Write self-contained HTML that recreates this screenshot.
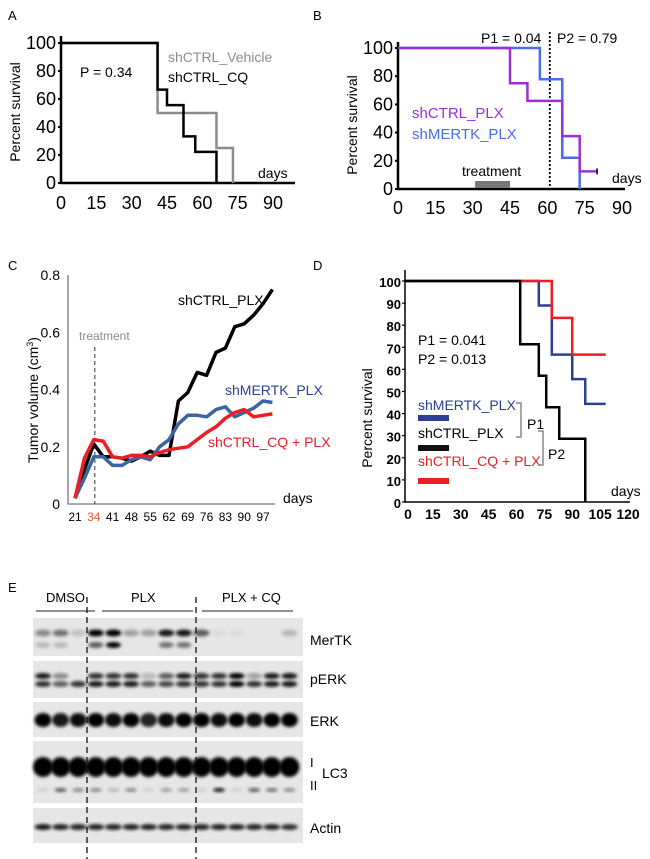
<!DOCTYPE html>
<html><head><meta charset="utf-8"><style>
html,body{margin:0;padding:0;background:#fff;}
svg{display:block;font-family:"Liberation Sans",Arial,sans-serif;}
</style></head><body>
<svg id="fig" width="650" height="859" viewBox="0 0 650 859" xmlns="http://www.w3.org/2000/svg">
<defs><filter id="blur" x="-50%" y="-50%" width="200%" height="200%"><feGaussianBlur stdDeviation="1.6"/></filter></defs>
<!-- Panel A -->
<g>
<text x="8" y="20" font-size="13">A</text>
<g id="gA"></g>
<text transform="translate(20,112) rotate(-90)" text-anchor="middle" font-size="14">Percent survival</text>
<text x="80" y="77" font-size="14">P = 0.34</text>
<text x="168" y="62" font-size="14" fill="#8c8c8c">shCTRL_Vehicle</text>
<text x="168" y="82" font-size="14">shCTRL_CQ</text>
<text x="258" y="178" font-size="14">days</text>
</g>
<!-- Panel B -->
<g>
<text x="313" y="20" font-size="13">B</text>
<g id="gB"></g>
<text transform="translate(357,125) rotate(-90)" text-anchor="middle" font-size="14">Percent survival</text>
<text x="481" y="43" font-size="14">P1 = 0.04</text>
<text x="557" y="43" font-size="14">P2 = 0.79</text>
<text x="412" y="118" font-size="15" fill="#9b30d9">shCTRL_PLX</text>
<text x="412" y="139" font-size="15" fill="#4a6cf0">shMERTK_PLX</text>
<text x="462" y="176" font-size="14">treatment</text>
<text x="612" y="183" font-size="14">days</text>
</g>
<!-- Panel C -->
<g>
<text x="8" y="270" font-size="13">C</text>
<g id="gC"></g>
<text transform="translate(38,400) rotate(-90)" text-anchor="middle" font-size="14">Tumor volume (cm<tspan baseline-shift="super" font-size="9">3</tspan>)</text>
<text x="79" y="340" font-size="12" fill="#8c8c8c">treatment</text>
<text x="178" y="305" font-size="14">shCTRL_PLX</text>
<text x="225" y="395" font-size="14" fill="#2c3f94">shMERTK_PLX</text>
<text x="208" y="447" font-size="14" fill="#ee1c24">shCTRL_CQ + PLX</text>
<text x="283" y="503" font-size="14">days</text>
</g>
<!-- Panel D -->
<g>
<text x="313" y="270" font-size="13">D</text>
<g id="gD"></g>
<text transform="translate(372,418) rotate(-90)" text-anchor="middle" font-size="14">Percent survival</text>
<text x="418" y="345" font-size="14">P1 = 0.041</text>
<text x="418" y="364" font-size="14">P2 = 0.013</text>
<text x="418" y="410" font-size="14" fill="#2c3f94">shMERTK_PLX</text>
<rect x="418" y="415" width="31" height="6" fill="#2c3f94"/>
<text x="418" y="438" font-size="14">shCTRL_PLX</text>
<rect x="418" y="445" width="31" height="6" fill="#111"/>
<text x="418" y="466" font-size="14" fill="#ee1c24">shCTRL_CQ + PLX</text>
<rect x="418" y="478" width="31" height="6" fill="#ee1c24"/>
<path d="M516,403 H521 V437 H516" fill="none" stroke="#888" stroke-width="1.5"/>
<text x="527" y="429" font-size="14">P1</text>
<path d="M538,431 H543 V465 H538" fill="none" stroke="#888" stroke-width="1.5"/>
<text x="548" y="459" font-size="14">P2</text>
<text x="611" y="496" font-size="14">days</text>
</g>
<!-- Panel E -->
<g>
<text x="8" y="592" font-size="13">E</text>
<text x="46" y="602" font-size="13">DMSO</text>
<line x1="36" y1="611" x2="95" y2="611" stroke="#222" stroke-width="1"/>
<text x="131" y="602" font-size="13">PLX</text>
<line x1="102" y1="611" x2="193" y2="611" stroke="#222" stroke-width="1"/>
<text x="222" y="602" font-size="13">PLX + CQ</text>
<line x1="202" y1="611" x2="293" y2="611" stroke="#222" stroke-width="1"/>
<g id="gE"></g>
<text x="310" y="645" font-size="14">MerTK</text>
<text x="310" y="684" font-size="14">pERK</text>
<text x="310" y="726" font-size="14">ERK</text>
<text x="310" y="767" font-size="13">I</text>
<text x="310" y="790" font-size="13">II</text>
<text x="322" y="778" font-size="14">LC3</text>
<text x="310" y="833" font-size="14">Actin</text>
<line x1="87" y1="597" x2="87" y2="859" stroke="#111" stroke-width="1.3" stroke-dasharray="6,4"/>
<line x1="196" y1="597" x2="196" y2="859" stroke="#111" stroke-width="1.3" stroke-dasharray="6,4"/>
</g>
</svg>
<script>
// ---- Panel A data ----
const aCqTimes=[0,41,45,52,57,66];
const aCqVals=[100,66.7,55.6,33.3,22.2,0];
const aVehTimes=[0,41,66,73];
const aVehVals=[100,50,25,0];
const aXTicks=[0,15,30,45,60,75,90];
const aYTicks=[0,20,40,60,80,100];
// ---- Panel B data ----
const bPlxTimes=[0,45,52,66,73];
const bPlxVals=[100,75,62.5,37.5,12.5];
const bPlxEnd=80;
const bMerTimes=[0,57,66,73];
const bMerVals=[100,77.8,22.2,0];
const bXTicks=[0,15,30,45,60,75,90];
const bYTicks=[0,20,40,60,80,100];
const bTreat=[31,45];
const bDotDay=61;
// ---- Panel C data ----
const cTickLabels=["21","34","41","48","55","62","69","76","83","90","97"];
const cYTicks=[0,0.2,0.4,0.6,0.8];
const cYTickLabels=["0","0.2","0.4","0.6","0.8"];
const cBlack=[0.02,0.12,0.21,0.165,0.165,0.16,0.15,0.165,0.185,0.17,0.17,0.36,0.39,0.46,0.45,0.53,0.545,0.62,0.63,0.66,0.70,0.75];
const cBlue=[0.02,0.09,0.165,0.165,0.135,0.135,0.155,0.165,0.155,0.20,0.225,0.28,0.31,0.31,0.305,0.33,0.34,0.305,0.32,0.335,0.36,0.355];
const cRed=[0.02,0.16,0.225,0.22,0.165,0.16,0.17,0.17,0.165,0.18,0.19,0.195,0.20,0.225,0.25,0.27,0.30,0.32,0.33,0.305,0.31,0.315];
// ---- Panel D data ----
const dBlkTimes=[0,62,72,76,83,97];
const dBlkVals=[100,71.4,57.1,42.9,28.6,0];
const dBluTimes=[0,72,79,90,97];
const dBluVals=[100,88.9,66.7,55.6,44.4];
const dRedTimes=[0,79,90];
const dRedVals=[100,83.3,66.7];
const dEnd=108;
const dXTicks=[0,15,30,45,60,75,90,105,120];
const dYTicks=[0,10,20,30,40,50,60,70,80,90,100];
// ---- Panel E data (band darkness per lane) ----
const eMerUpper=[0.4,0.5,0.15,1,1,0.3,0.3,0.9,0.9,0.6,0.05,0.05,0,0,0.2];
const eMerLower=[0.2,0.2,0,0.6,1,0,0,0.5,0.5,0,0,0,0,0,0];
const ePerkUpper=[0.9,0.4,0,0.8,0.8,0.8,0.2,0.6,0.9,0.8,0.8,1,0.3,0.9,0.9];
const ePerkLower=[0.8,0.6,0.8,0.9,0.9,0.9,0.6,0.7,0.8,0.8,0.8,1,0.8,0.9,0.9];
const eErk=[1,0.9,0.95,1,0.95,1,0.85,0.95,1,1,0.95,1,0.95,1,1];
const eLc3=[1,1,1,1,1,1,1,1,1,1,1,1,1,1,1];
const eLc3II=[0.1,0.6,0.4,0.4,0.2,0.4,0.1,0.3,0.3,0.1,0.9,0.1,0.6,0.5,0.4];
const eActin=[0.9,0.85,0.85,0.85,0.85,0.85,0.85,0.85,0.85,0.85,0.85,0.85,0.85,0.85,0.8];

const NS="http://www.w3.org/2000/svg";
function mk(p,tag,at){const e=document.createElementNS(NS,tag);for(const k in at)e.setAttribute(k,at[k]);p.appendChild(e);return e;}
function txt(p,x,y,s,at){const e=mk(p,'text',Object.assign({x:x,y:y},at));e.textContent=s;return e;}
function stepPath(times,vals,end,sx,sy){let d='M'+sx(times[0])+','+sy(vals[0]);for(let i=1;i<times.length;i++){d+=' H'+sx(times[i])+' V'+sy(vals[i]);}if(end!==null)d+=' H'+sx(end);return d;}

// Panel A
(function(){const g=document.getElementById('gA');
const sx=d=>61+d*(212/90), sy=v=>183-v*1.40;
mk(g,'path',{d:'M61,36 V183 H295',fill:'none',stroke:'#000','stroke-width':2.5});
aYTicks.forEach(t=>{const e=txt(g,56,sy(t)+6,String(t),{'text-anchor':'end','font-size':18});
 const l=mk(g,'line',{x1:58,x2:61,y1:sy(t),y2:sy(t),stroke:'#000','stroke-width':2});});
aXTicks.forEach(t=>{const e=txt(g,sx(t),209,String(t),{'text-anchor':'middle','font-size':18});});
const v=mk(g,'path',{d:stepPath(aVehTimes,aVehVals,null,sx,sy),fill:'none',stroke:'#8c8c8c','stroke-width':2.5});

const c=mk(g,'path',{d:stepPath(aCqTimes,aCqVals,null,sx,sy),fill:'none',stroke:'#000','stroke-width':2.5});

})();

// Panel B
(function(){const g=document.getElementById('gB');
const sx=d=>398+d*(224/90), sy=v=>189-v*1.41;
mk(g,'path',{d:'M398,42 V189 H625',fill:'none',stroke:'#000','stroke-width':2.5});
const r=mk(g,'rect',{x:sx(bTreat[0]),y:181,width:sx(bTreat[1])-sx(bTreat[0]),height:7,fill:'#777'});

bYTicks.forEach(t=>{const e=txt(g,393,sy(t)+6,String(t),{'text-anchor':'end','font-size':18});
 mk(g,'line',{x1:395,x2:398,y1:sy(t),y2:sy(t),stroke:'#000','stroke-width':2});});
bXTicks.forEach(t=>{const e=txt(g,sx(t),214,String(t),{'text-anchor':'middle','font-size':18});});
const dl=mk(g,'line',{x1:sx(bDotDay),x2:sx(bDotDay),y1:32,y2:189,stroke:'#000','stroke-width':1.8,'stroke-dasharray':'2,2'});

const m=mk(g,'path',{d:stepPath(bMerTimes,bMerVals,null,sx,sy),fill:'none',stroke:'#4a6cf0','stroke-width':2.5});

const p=mk(g,'path',{d:stepPath(bPlxTimes,bPlxVals,bPlxEnd,sx,sy),fill:'none',stroke:'#9b30d9','stroke-width':2.5});

mk(g,'line',{x1:sx(bPlxEnd),x2:sx(bPlxEnd),y1:sy(bPlxVals[bPlxVals.length-1])-3,y2:sy(bPlxVals[bPlxVals.length-1])+3,stroke:'#000','stroke-width':1.5});
})();

// Panel C
(function(){const g=document.getElementById('gC');
const sx=i=>75+i*9.4, sy=v=>504-v*286;
mk(g,'path',{d:'M68,275 V504 H275',fill:'none',stroke:'#777','stroke-width':1.3});
cYTicks.forEach((t,i)=>{const e=txt(g,60,sy(t)+5,cYTickLabels[i],{'text-anchor':'end','font-size':14});});
cTickLabels.forEach((s,i)=>{const e=txt(g,sx(i*2),521,s,{'text-anchor':'middle','font-size':12,fill:i===1?'#f05a28':'#000'});});
const tl=mk(g,'line',{x1:sx(2)+1,x2:sx(2)+1,y1:347,y2:504,stroke:'#555','stroke-width':1.2,'stroke-dasharray':'4,3'});

function line(vals,col,name){const d=vals.map((v,i)=>(i?'L':'M')+sx(i).toFixed(1)+','+sy(v).toFixed(1)).join(' ');
 const e=mk(g,'path',{d:d,fill:'none',stroke:col,'stroke-width':3.5,'stroke-linejoin':'round'});}
line(cBlack,'#000','line-shctrl-plx');
line(cBlue,'#3b64a0','line-shmertk-plx');
line(cRed,'#ee1c24','line-shctrl-cq-plx');
})();

// Panel D
(function(){const g=document.getElementById('gD');
const sx=d=>405+d*(223/120), sy=v=>502-v*2.21;
mk(g,'path',{d:'M405,270 V502 H630',fill:'none',stroke:'#000','stroke-width':1.5});
dYTicks.forEach(t=>{const e=txt(g,401,sy(t)+6,String(t),{'text-anchor':'end','font-size':13,'font-weight':'bold'});
 mk(g,'line',{x1:402,x2:405,y1:sy(t),y2:sy(t),stroke:'#000','stroke-width':1.2});});
dXTicks.forEach(t=>{const e=txt(g,sx(t)+(t===0?3:0),519,String(t),{'text-anchor':'middle','font-size':14,'font-weight':'bold'});});
const b=mk(g,'path',{d:stepPath(dBluTimes,dBluVals,dEnd,sx,sy),fill:'none',stroke:'#2c3f94','stroke-width':2.5});

const r=mk(g,'path',{d:stepPath(dRedTimes,dRedVals,dEnd,sx,sy),fill:'none',stroke:'#ee1c24','stroke-width':2.5});

const k=mk(g,'path',{d:stepPath(dBlkTimes,dBlkVals,null,sx,sy),fill:'none',stroke:'#000','stroke-width':2.5});

})();

// Panel E blots
(function(){const g=document.getElementById('gE');
const lx=i=>43+i*17.6;
const rows=[[618,656],[661,698],[702,737],[741,803],[808,843]];
const names=['blot-mertk','blot-perk','blot-erk','blot-lc3','blot-actin'];
rows.forEach((r,i)=>{const e=mk(g,'rect',{x:33,y:r[0],width:270,height:r[1]-r[0],fill:'#e6e6e6'});});
function bands(arr,y,h,w,name){arr.forEach((v,i)=>{if(v<=0)return;const e=mk(g,'ellipse',{cx:lx(i),cy:y,rx:w,ry:h,fill:'#000','fill-opacity':v,filter:'url(#blur)'});});}
bands(eMerUpper,633,3.5,8,'band-mertk');
bands(eMerLower,645,3,7.5,'band-mertk-lower');
bands(ePerkUpper,676,3,8,'band-perk');
bands(ePerkLower,684,3,8,'band-perk-lower');
bands(eErk,720,7,8.5,'band-erk');
bands(eLc3,767,10,10,'band-lc3-i');
bands(eLc3II,790,2,6,'band-lc3-ii');
bands(eActin,827,3,8.5,'band-actin');
})();
</script>
</body></html>
